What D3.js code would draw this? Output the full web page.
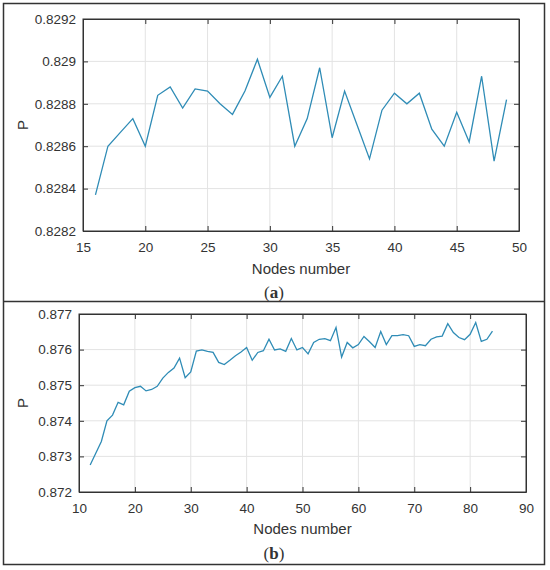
<!DOCTYPE html>
<html>
<head>
<meta charset="utf-8">
<script src="https://cdn.jsdelivr.net/npm/d3@7"></script>
<style>
  body { margin: 0; background: #fff; }
  text { font-family: "Liberation Sans", Arial, sans-serif; fill: #333; }
</style>
</head>
<body>
<script>
// panel (a)
var nodesA = [16,17,18,19,20,21,22,23,24,25,26,27,28,29,30,31,32,33,34,35,36,37,38,39,40,41,42,43,44,45,46,47,48,49];
var pA = [0.82837,0.8286,0.828665,0.82873,0.8286,0.82884,0.82888,0.82878,0.82887,0.82886,0.8288,0.82875,0.82886,0.82901,
  0.82883,0.82893,0.8286,0.82873,0.82897,0.82864,0.82886,0.8287,0.82854,0.82877,0.82885,0.8288,0.82885,0.82868,
  0.8286,0.82876,0.82862,0.82893,0.82853,0.82882];
var xTicksA = [15,20,25,30,35,40,45,50];
var yTicksA = [0.8282,0.8284,0.8286,0.8288,0.829,0.8292];

// panel (b)
var nodesB = d3.range(12, 85);
var pB = [0.87276,0.87309,0.87342,0.874,0.87416,0.87452,0.87445,0.87483,0.87493,0.87497,0.87484,0.87488,0.87497,
  0.8752,0.87536,0.87548,0.87576,0.87521,0.87537,0.87596,0.87599,0.87595,0.87592,0.87564,0.87558,0.8757,0.87583,
  0.87593,0.87606,0.8757,0.87592,0.87597,0.87629,0.87599,0.87602,0.87595,0.87631,0.87599,0.87606,0.87588,0.8762,
  0.87629,0.87631,0.87625,0.87662,0.87579,0.8762,0.87605,0.87614,0.87637,0.87622,0.87606,0.87651,0.87614,0.87639,
  0.87639,0.87642,0.87639,0.87609,0.87614,0.87611,0.87629,0.87636,0.87638,0.87673,0.87648,0.87634,0.87628,0.87643,
  0.87676,0.87623,0.87629,0.87652];
var xTicksB = [10,20,30,40,50,60,70,80,90];
var yTicksB = [0.872,0.873,0.874,0.875,0.876,0.877];

var width = 550, height = 570;
var svg = d3.select('body').append('svg')
  .attr('width', width)
  .attr('height', height);

// outer frame and divider
svg.append('rect')
  .attr('x', 3.5).attr('y', 3.5)
  .attr('width', 541).attr('height', 561)
  .attr('fill', 'none').attr('stroke', '#333').attr('stroke-width', 1.5);
svg.append('line')
  .attr('x1', 3.5).attr('x2', 544.5)
  .attr('y1', 301.5).attr('y2', 301.5)
  .attr('stroke', '#333').attr('stroke-width', 1.5);

function panel(opt){
  var x = d3.scaleLinear().domain(opt.xDomain).range([opt.left, opt.right]);
  var y = d3.scaleLinear().domain(opt.yDomain).range([opt.bottom, opt.top]);
  var g = svg.append('g');

  // grid
  g.selectAll('.gx').data(opt.xTicks.slice(1, -1)).enter().append('line')
    .attr('x1', function(d){ return x(d); }).attr('x2', function(d){ return x(d); })
    .attr('y1', opt.top).attr('y2', opt.bottom)
    .attr('stroke', '#e3e3e3').attr('stroke-width', 1);
  g.selectAll('.gy').data(opt.yTicks.slice(1, -1)).enter().append('line')
    .attr('y1', function(d){ return y(d); }).attr('y2', function(d){ return y(d); })
    .attr('x1', opt.left).attr('x2', opt.right)
    .attr('stroke', '#e3e3e3').attr('stroke-width', 1);

  // data line
  var line = d3.line()
    .x(function(d){ return x(d[0]); })
    .y(function(d){ return y(d[1]); });
  g.append('path')
    .datum(d3.zip(opt.nodes, opt.values))
    .attr('d', line)
    .attr('fill', 'none')
    .attr('stroke', '#2f8cb6')
    .attr('stroke-width', 1.3);

  // axes (ticks inward, box on)
  var fmt = opt.fmt;
  var ax = g.append('g').attr('transform', 'translate(0,' + opt.bottom + ')')
    .call(d3.axisBottom(x).tickValues(opt.xTicks).tickSizeInner(-5).tickSizeOuter(0).tickPadding(11));
  g.append('g').attr('transform', 'translate(0,' + opt.top + ')')
    .call(d3.axisTop(x).tickValues(opt.xTicks).tickSizeInner(-5).tickSizeOuter(0).tickFormat(''));
  var ay = g.append('g').attr('transform', 'translate(' + opt.left + ',0)')
    .call(d3.axisLeft(y).tickValues(opt.yTicks).tickSizeInner(-5).tickSizeOuter(0).tickPadding(opt.yPad).tickFormat(fmt));
  g.append('g').attr('transform', 'translate(' + opt.right + ',0)')
    .call(d3.axisRight(y).tickValues(opt.yTicks).tickSizeInner(-5).tickSizeOuter(0).tickFormat(''));

  g.selectAll('.domain').attr('stroke', '#333');
  g.selectAll('.tick line').attr('stroke', '#333');
  g.selectAll('.tick text')
    .style('font-family', '"Liberation Sans", Arial, sans-serif')
    .style('font-size', '13.5px')
    .attr('fill', '#333');

  g.append('rect')
    .attr('x', opt.left).attr('y', opt.top)
    .attr('width', opt.right - opt.left).attr('height', opt.bottom - opt.top)
    .attr('fill', 'none').attr('stroke', '#333').attr('stroke-width', 1);

  g.append('text')
    .attr('x', (opt.left + opt.right) / 2).attr('y', opt.xLabelY)
    .attr('text-anchor', 'middle')
    .style('font-size', '15px')
    .text('Nodes number');
  g.append('text')
    .attr('transform', 'translate(' + opt.yLabelX + ',' + (opt.top + opt.bottom) / 2 + ') rotate(-90)')
    .attr('text-anchor', 'middle')
    .style('font-size', '15px')
    .text('P');

  var cap = g.append('text')
    .attr('x', 274).attr('y', opt.capY)
    .attr('text-anchor', 'middle')
    .style('font-family', '"Liberation Serif", "Times New Roman", serif')
    .style('font-size', '17px')
    .attr('fill', '#000');
  cap.append('tspan').text('(');
  cap.append('tspan').style('font-weight', 'bold').text(opt.cap);
  cap.append('tspan').text(')');
}

panel({
  nodes: nodesA, values: pA, xTicks: xTicksA, yTicks: yTicksA,
  xDomain: [15, 50], yDomain: [0.8282, 0.8292],
  left: 83, right: 519, top: 19, bottom: 231,
  fmt: function(d){ return d3.format('.4~f')(d); },
  yPad: 7, xLabelY: 274, yLabelX: 28, capY: 298, cap: 'a'
});

panel({
  nodes: nodesB, values: pB, xTicks: xTicksB, yTicks: yTicksB,
  xDomain: [10, 90], yDomain: [0.872, 0.877],
  left: 79, right: 526, top: 314, bottom: 492,
  fmt: d3.format('.3f'),
  yPad: 7, xLabelY: 534, yLabelX: 28, capY: 559, cap: 'b'
});
</script>
</body>
</html>
